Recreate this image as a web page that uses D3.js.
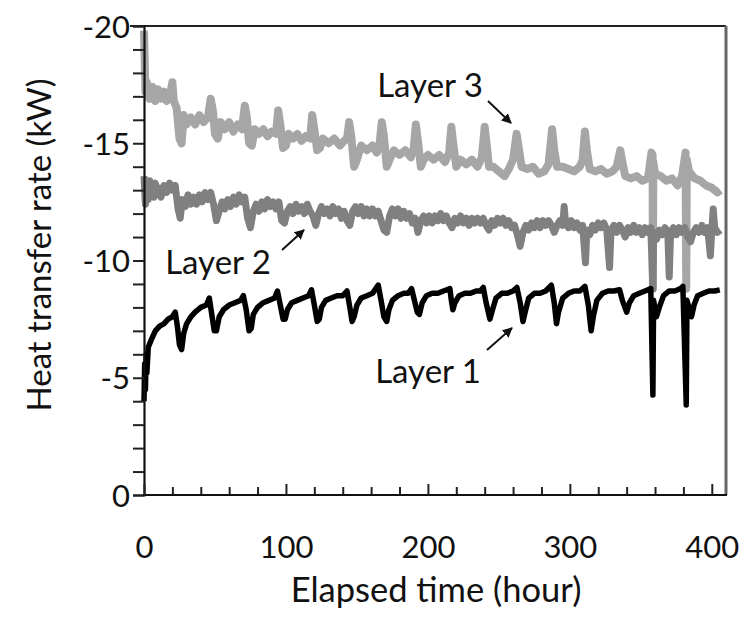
<!DOCTYPE html>
<html><head><meta charset="utf-8">
<script src="https://cdn.jsdelivr.net/npm/d3@7"></script>
<style>body{margin:0;background:#fff}svg{display:block}text{font-family:Lato,"Open Sans",sans-serif;fill:#111}</style>
</head><body>
<svg id="chart" width="746" height="618"></svg>
<script>
// ---- data (hours, kW) ----
const layer1 = [[0,-4.0],[0.5,-5.6],[1,-4.5],[1.5,-6.0],[2,-5.2],[3,-6.3],[5,-6.6],[8,-7.0],[11,-7.2],[14,-7.3],[17,-7.5],[20,-7.6],[22,-7.8],[23.5,-7.2],[25,-6.4],[26.5,-6.2],[28,-6.9],[30,-7.3],[33,-7.6],[36,-7.8],[40,-8.0],[44,-8.1],[46,-8.4],[47.5,-7.8],[49.5,-7.0],[51,-7.0],[53,-7.6],[56,-7.9],[60,-8.1],[64,-8.2],[68,-8.3],[70,-8.5],[72,-7.9],[74,-7.0],[75.5,-7.1],[77,-7.7],[80,-8.0],[84,-8.2],[88,-8.3],[92,-8.4],[94,-8.7],[96,-8.1],[98,-7.5],[99.5,-7.5],[101,-7.9],[104,-8.2],[108,-8.3],[112,-8.4],[116,-8.5],[118,-8.75],[120,-8.1],[122,-7.4],[123.5,-7.5],[125,-8.0],[128,-8.3],[132,-8.4],[136,-8.5],[140,-8.5],[143,-8.7],[145,-8.0],[146.6,-7.4],[148,-7.6],[150,-8.1],[153,-8.4],[157,-8.5],[161,-8.6],[165,-8.95],[167,-8.3],[169,-7.6],[171,-7.4],[172.5,-7.9],[175,-8.3],[179,-8.5],[183,-8.6],[186,-8.6],[188.5,-8.8],[190.5,-8.3],[192.5,-7.8],[194,-7.7],[196,-8.2],[199,-8.5],[203,-8.6],[207,-8.6],[211,-8.7],[215.5,-8.8],[216.5,-8.3],[217.6,-7.9],[219,-8.2],[222,-8.5],[226,-8.6],[230,-8.6],[234,-8.7],[237,-8.7],[239,-8.85],[241,-8.2],[243.7,-7.5],[245.5,-7.9],[248,-8.4],[252,-8.6],[256,-8.6],[260,-8.7],[262.7,-8.85],[265,-8.2],[267,-7.4],[268.5,-7.8],[271,-8.4],[275,-8.6],[279,-8.6],[283,-8.7],[287,-8.95],[289,-8.2],[290.6,-7.3],[292,-7.8],[295,-8.4],[299,-8.6],[303,-8.7],[307,-8.7],[310.6,-8.9],[313,-8.1],[315,-7.0],[316.5,-7.6],[319,-8.3],[323,-8.6],[327,-8.7],[331,-8.7],[335,-8.75],[337,-8.3],[340,-7.8],[342,-8.2],[345,-8.5],[349,-8.6],[353,-8.7],[357,-8.8],[358.5,-4.26],[359,-8.3],[361,-7.6],[363,-8.0],[366,-8.5],[370,-8.7],[374,-8.7],[378,-8.8],[379.6,-8.9],[382,-3.84],[382.5,-8.3],[385.7,-7.6],[387.5,-8.1],[390,-8.5],[394,-8.6],[398,-8.7],[402,-8.7],[405.6,-8.75]];

const layer2 = [[0,-13.6],[1,-12.4],[2,-13.3],[3,-12.6],[4,-13.4],[5,-12.8],[6,-13.2],[7,-12.7],[8,-13.3],[9,-12.8],[10,-13.1],[12,-12.7],[14,-13.2],[16,-12.9],[18,-13.3],[20,-13.0],[22,-13.2],[24,-12.2],[25.5,-11.8],[27,-12.6],[29,-12.3],[31,-12.8],[33,-12.4],[35,-12.7],[37,-12.4],[39,-12.8],[41,-12.5],[43,-12.9],[45,-12.6],[47,-12.9],[49,-12.4],[51,-11.7],[53,-12.1],[55,-12.5],[57,-12.2],[59,-12.6],[61,-12.3],[63,-12.7],[65,-12.4],[67,-12.8],[69,-12.5],[71,-12.7],[73,-11.8],[75,-11.4],[77,-12.1],[79,-12.4],[81,-12.1],[83,-12.5],[85,-12.2],[87,-12.6],[89,-12.3],[91,-12.5],[93,-12.2],[95,-12.5],[97,-11.7],[99,-11.6],[101,-12.1],[103,-12.3],[105,-12.0],[107,-12.4],[109,-12.1],[111,-12.3],[113,-12.0],[115,-12.4],[117,-12.1],[119,-11.9],[121,-11.5],[123,-12.0],[125,-12.3],[127,-12.0],[129,-12.2],[131,-11.9],[133,-12.3],[135,-12.0],[137,-12.2],[139,-11.8],[141,-12.1],[143,-11.7],[145,-11.5],[147,-12.1],[149,-12.3],[151,-12.0],[153,-12.3],[155,-11.9],[157,-12.2],[159,-11.9],[161,-12.2],[163,-11.9],[165,-12.1],[167,-11.7],[169,-11.3],[171,-11.2],[173,-11.9],[175,-12.2],[177,-11.9],[179,-12.2],[181,-11.8],[183,-12.1],[185,-11.8],[187,-12.0],[189,-11.6],[191,-11.8],[193,-11.2],[195,-11.7],[197,-11.9],[199,-11.6],[201,-11.9],[203,-11.6],[205,-11.9],[207,-11.7],[209,-12.0],[211,-11.7],[213,-11.9],[215,-11.6],[217,-11.4],[219,-11.8],[221,-11.6],[223,-11.9],[225,-11.6],[227,-11.8],[229,-11.5],[231,-11.8],[233,-11.6],[235,-11.8],[237,-11.6],[239,-11.8],[241,-11.5],[243,-11.3],[245,-11.7],[247,-11.5],[249,-11.8],[251,-11.6],[253,-11.8],[255,-11.5],[257,-11.7],[259,-11.4],[261,-11.5],[263,-11.1],[265,-10.6],[267,-11.2],[269,-11.5],[271,-11.3],[273,-11.6],[275,-11.4],[277,-11.7],[279,-11.4],[281,-11.7],[283,-11.5],[285,-11.7],[287,-11.5],[289,-11.2],[291,-11.5],[293,-11.7],[295,-11.5],[296,-12.3],[297,-11.6],[299,-11.4],[301,-11.7],[303,-11.4],[305,-11.6],[307,-11.3],[309,-11.5],[311,-9.9],[312,-11.3],[314,-11.1],[316,-11.5],[318,-11.3],[320,-11.6],[322,-11.4],[324,-11.6],[326,-11.3],[328,-9.7],[329,-11.3],[331,-11.5],[333,-11.2],[335,-11.5],[337,-11.3],[339,-11.0],[341,-11.4],[343,-11.2],[345,-11.5],[347,-11.2],[349,-11.4],[351,-11.1],[353,-11.4],[355,-11.2],[357,-11.4],[358.5,-8.8],[359,-11.2],[361,-10.9],[363,-11.3],[365,-11.1],[367,-11.4],[369,-11.2],[370,-9.3],[371,-11.2],[373,-11.4],[375,-11.1],[377,-11.4],[379,-11.2],[381,-11.4],[383,-11.0],[385,-10.8],[387,-11.2],[389,-11.4],[391,-11.2],[393,-11.5],[395,-11.2],[397,-11.4],[399,-10.2],[400,-11.3],[401,-12.2],[402,-11.4],[404,-11.2],[406,-11.3]];

const layer3 = [[0,-19.8],[0.5,-18.5],[1,-17.2],[2,-17.6],[4,-16.9],[6,-17.4],[8,-16.8],[10,-17.3],[12,-16.9],[14,-17.2],[16,-16.8],[18,-17.0],[20,-17.6],[21,-16.8],[23,-16.5],[25,-15.2],[26.5,-15.0],[28,-16.2],[30,-15.8],[33,-16.1],[36,-15.8],[39,-16.2],[42,-15.9],[45,-16.1],[47,-16.9],[48.5,-16.4],[50,-15.4],[52,-15.2],[54,-15.9],[57,-15.6],[60,-15.9],[63,-15.5],[66,-15.8],[69,-15.6],[71,-16.6],[72.5,-16.1],[74,-15.0],[76,-14.9],[78,-15.6],[81,-15.4],[84,-15.6],[87,-15.3],[90,-15.5],[93,-15.4],[94.5,-16.4],[96,-15.8],[98,-14.8],[100,-14.9],[102,-15.4],[105,-15.2],[108,-15.4],[111,-15.1],[114,-15.3],[117,-15.2],[118.5,-16.2],[120,-15.6],[122,-14.7],[124,-14.8],[126,-15.2],[130,-15.0],[134,-15.2],[138,-14.9],[141,-15.1],[143,-15.2],[144.5,-15.9],[146,-15.3],[148,-14.0],[150,-14.3],[153,-14.9],[157,-14.7],[161,-14.9],[164,-14.6],[166,-15.0],[167.5,-15.9],[169,-15.3],[171,-14.0],[173,-14.3],[176,-14.7],[180,-14.5],[184,-14.7],[188,-14.4],[190,-14.8],[191.5,-15.8],[193,-15.1],[195,-14.0],[197,-14.3],[200,-14.5],[204,-14.3],[208,-14.5],[212,-14.2],[215,-14.6],[216.5,-15.7],[218,-14.9],[220,-14.0],[223,-14.3],[227,-14.1],[231,-14.3],[235,-14.0],[238,-14.4],[240,-15.7],[241.5,-14.9],[243,-14.0],[246,-14.0],[250,-13.8],[254,-13.6],[257,-13.9],[260,-14.3],[262.5,-15.4],[264,-14.8],[266,-14.0],[270,-13.9],[274,-14.0],[278,-13.7],[282,-13.8],[285,-14.1],[287.5,-15.6],[289,-14.7],[291,-14.0],[295,-14.0],[299,-13.9],[303,-13.8],[307,-14.0],[309,-14.3],[310.6,-15.5],[312,-14.7],[314,-13.9],[318,-13.8],[322,-13.9],[326,-13.7],[330,-13.8],[333,-14.0],[335.5,-14.7],[337,-14.2],[339,-13.6],[343,-13.5],[347,-13.6],[351,-13.4],[355,-13.5],[357.5,-14.6],[358.3,-14.5],[358.5,-8.8],[358.8,-14.2],[360,-13.7],[364,-13.6],[368,-13.4],[372,-13.5],[376,-13.2],[379,-13.6],[381.5,-14.6],[382,-8.8],[382.4,-14.3],[384,-13.8],[388,-13.5],[392,-13.4],[396,-13.2],[400,-13.1],[404,-12.9],[406,-13.0]];

const seriesNames = ["Layer 1","Layer 2","Layer 3"];
const xMajorTicks = [0,100,200,300,400];
const yMajorTicks = [0,-5,-10,-15,-20];

// ---- drawing ----
const svg = d3.select("#chart");
const x = d3.scaleLinear().domain([0,410]).range([144,726]);
const y = d3.scaleLinear().domain([0,-20]).range([495,26]);

const line = d3.line().x(d=>x(d[0])).y(d=>y(d[1]));

// border top/right
svg.append("line").attr("x1",130).attr("x2",726).attr("y1",y(-20)).attr("y2",y(-20)).attr("stroke","#222").attr("stroke-width",2);
svg.append("line").attr("x1",726).attr("x2",726).attr("y1",y(-20)).attr("y2",y(0)).attr("stroke","#666").attr("stroke-width",3);

const styles = [
  {data:layer3, color:"#a6a6a6", w:8},
  {data:layer2, color:"#808080", w:7},
  {data:layer1, color:"#000", w:5.5}
];
styles.forEach(s=>{
  svg.append("path").datum(s.data).attr("d",line).attr("fill","none")
    .attr("stroke",s.color).attr("stroke-width",s.w).attr("stroke-linejoin","round");
});

// y axis
const yAxis = d3.axisLeft(y).tickValues(d3.range(0,-21,-1)).tickSize(11).tickPadding(3)
  .tickFormat(d=> yMajorTicks.includes(d) ? (d===0?"0":String(d).replace("−","-")) : "");
const gy = svg.append("g").attr("transform","translate(144,0)").call(yAxis);
gy.select(".domain").attr("stroke","#111").attr("stroke-width",2.2);
gy.selectAll(".tick line").attr("stroke","#222").attr("stroke-width",2);
gy.selectAll("text").style("font-size","31px").attr("fill","#111").attr("dy","0.36em");

// x axis minor
const xMinor = d3.axisBottom(x).tickValues(d3.range(0,401,20).filter(v=>v%100!==0)).tickSizeInner(-8).tickSizeOuter(0).tickFormat("");
const gxm = svg.append("g").attr("transform","translate(0,495)").call(xMinor);
gxm.select(".domain").remove();
gxm.selectAll(".tick line").attr("stroke","#222").attr("stroke-width",2);
const xAxis = d3.axisBottom(x).tickValues(xMajorTicks).tickSizeInner(-11).tickSizeOuter(0).tickPadding(41);
const gx = svg.append("g").attr("transform","translate(0,495)").call(xAxis);
gx.select(".domain").attr("stroke","#111").attr("stroke-width",2.2).attr("d","M143,0H727");
gx.selectAll(".tick line").attr("stroke","#222").attr("stroke-width",2);
gx.selectAll("text").style("font-size","31px").attr("fill","#111");

// axis titles
svg.append("text").attr("x",436).attr("y",602).attr("text-anchor","middle").style("font-size","34.5px").text("Elapsed time (hour)");
svg.append("text").attr("transform","translate(51,245) rotate(-90)").attr("text-anchor","middle").style("font-size","33px").text("Heat transfer rate (kW)");

// annotations
svg.append("defs").append("marker").attr("id","ah").attr("viewBox","0 0 10 10").attr("refX",9).attr("refY",5)
  .attr("markerWidth",5).attr("markerHeight",5).attr("orient","auto")
  .append("path").attr("d","M0,0L10,5L0,10z").attr("fill","#111");
const notes = [
  {name:seriesNames[2], tx:483, ty:97, a:[[488,101],[511,123]]},
  {name:seriesNames[1], tx:271, ty:274, a:[[282,250],[304,230]]},
  {name:seriesNames[0], tx:481, ty:383, a:[[487,350],[512,328]]}
];
notes.forEach(n=>{
  svg.append("text").attr("x",n.tx).attr("y",n.ty).attr("text-anchor","end").style("font-size","33px").text(n.name);
  svg.append("line").attr("x1",n.a[0][0]).attr("y1",n.a[0][1]).attr("x2",n.a[1][0]).attr("y2",n.a[1][1])
    .attr("stroke","#111").attr("stroke-width",2).attr("marker-end","url(#ah)");
});
</script>
</body></html>
